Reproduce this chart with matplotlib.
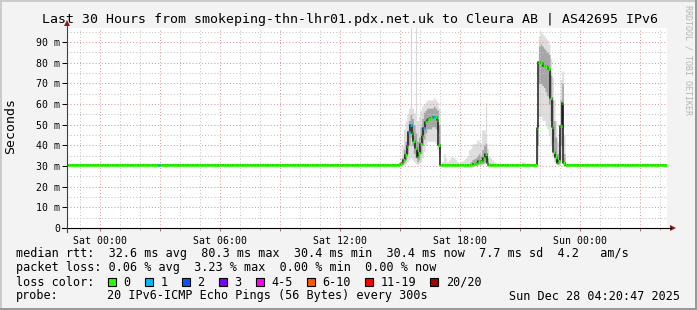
import matplotlib
matplotlib.use("Agg")
import matplotlib.pyplot as plt
from matplotlib.lines import Line2D
from matplotlib.patches import Rectangle, Polygon
import numpy as np

plt.rcParams['font.family'] = ['DejaVu Sans Mono']

# ---------------- data (hours relative to Sat 00:00, values in ms) ----------------
STEP_H = 5 / 60                       # 300 s step
FIRST_STEP_H = -100 / 60              # Fri 22:20
VIEW_START_H = -(1 + 39 / 60 + 13 / 3600)   # Fri 22:20:47
VIEW_HOURS = 30
BASE = 30.4                           # flat median rtt

# quiet stretch before first event (Fri 22:20 .. Sat 15:00)
Q0_N = 200
Q0_LOSS_STEP = 55                     # Sat 02:55 : 1/20 lost
Q0_LOSS_VAL = 1

# event 1 : Sat 15:00 .. 17:00
EV1_MEDIAN = [31.0, 31.7, 33.0, 35.5, 39.8, 46.7, 50.0, 46.0, 42.0, 38.5, 34.6, 36.5,
              40.5, 44.5, 48.3, 51.5, 52.3, 52.8, 53.0, 53.3, 53.9, 53.6, 52.3, 40.2]
EV1_LOSS = [0, 0, 0, 0, 0, 1, 1, 0, 0, 0, 0, 0, 0, 0, 1, 0, 0, 0, 0, 0, 1, 0, 0, 0]
EV1_LO = [30.4, 30.4, 30.5, 31.0, 32.0, 33.0, 34.0, 33.0, 32.0, 31.0, 30.6, 31.0,
          32.0, 34.0, 37.0, 40.0, 42.0, 42.0, 42.0, 42.0, 42.0, 41.0, 38.0, 33.0]
EV1_HI = [34.0, 40.0, 48.0, 52.0, 55.0, 58.0, 60.0, 58.0, 56.0, 55.0, 52.0, 54.0,
          57.0, 59.0, 60.0, 61.0, 62.0, 62.0, 62.0, 62.0, 63.0, 62.0, 61.0, 58.0]
EV1_IN_LO = [30.6, 30.8, 31.5, 33.0, 36.0, 40.0, 44.0, 40.0, 36.0, 34.0, 32.0, 33.0,
             36.0, 40.0, 43.0, 46.0, 48.0, 48.0, 48.0, 49.0, 49.0, 48.0, 46.0, 36.0]
EV1_IN_HI = [32.0, 34.0, 38.0, 42.0, 47.0, 52.0, 55.0, 53.0, 50.0, 46.0, 42.0, 44.0,
             49.0, 53.0, 56.0, 57.0, 58.0, 58.0, 58.0, 58.0, 59.0, 58.0, 57.0, 50.0]
EV1_MAX = [34.0, 40.0, 48.0, 52.0, 55.0, 58.0, 100.0, 58.0, 56.0, 100.0, 52.0, 54.0,
           57.0, 59.0, 60.0, 61.0, 62.0, 62.0, 62.0, 62.0, 63.0, 62.0, 61.0, 58.0]

# light smoke on the flat line, Sat 17:00 .. 18:30
Q1_HI = [31.5, 32.2, 35.9, 34.0, 32.0, 33.0, 34.4, 34.4, 34.0, 33.0, 32.0, 31.5,
         32.0, 32.5, 33.0, 34.0, 35.0, 37.8]

# event 2 : Sat 18:30 .. 19:30
EV2_MEDIAN = [30.5, 30.6, 30.8, 31.2, 31.7, 32.2, 32.0, 32.2, 33.8, 35.8, 31.4, 30.6]
EV2_LOSS = [0] * 12
EV2_LO = [30.4, 30.4, 30.4, 30.4, 30.4, 30.4, 30.4, 30.5, 31.0, 31.5, 30.4, 30.4]
EV2_HI = [38.6, 40.7, 40.7, 41.0, 42.7, 42.0, 41.0, 47.5, 47.5, 45.9, 38.6, 34.6]
EV2_IN_LO = [30.4, 30.5, 30.5, 30.6, 30.8, 31.0, 31.0, 31.2, 31.5, 32.0, 30.6, 30.4]
EV2_IN_HI = [32.0, 33.0, 33.5, 34.0, 35.0, 36.0, 35.0, 38.0, 40.0, 41.0, 34.0, 31.5]
EV2_MAX = [38.6, 40.7, 40.7, 41.0, 42.7, 42.0, 41.0, 47.5, 47.5, 60.4, 38.6, 34.6]

# light smoke on the flat line, Sat 19:30 .. 21:50
Q2_HI = [34.0, 33.0, 32.0, 31.5, 30.4, 30.4, 30.4, 30.4, 30.4, 30.4, 30.4, 30.4,
         30.4, 30.4, 30.4, 30.4, 30.4, 30.4, 30.4, 32.0, 32.0, 30.4, 30.4, 30.4,
         30.4, 30.4, 30.4, 31.0]

# event 3 : Sat 21:50 .. 23:15
EV3_MEDIAN = [48.3, 80.5, 80.0, 79.7, 78.5, 78.5, 78.0, 77.0, 63.0, 49.0, 37.0, 34.5,
              31.7, 32.2, 49.4, 60.7, 31.7]
EV3_LOSS = [0] * 17
EV3_LO = [33.0, 54.0, 54.0, 52.0, 52.0, 50.0, 48.0, 45.0, 40.0, 35.0, 32.0, 31.0,
          30.5, 30.5, 33.0, 38.0, 30.5]
EV3_HI = [52.0, 93.0, 95.0, 94.0, 93.0, 92.0, 91.0, 89.0, 82.0, 73.0, 62.0, 52.0,
          42.0, 46.0, 72.0, 76.0, 45.0]
EV3_IN_LO = [40.0, 70.0, 70.0, 69.0, 68.0, 66.0, 64.0, 60.0, 52.0, 42.0, 34.0, 32.0,
             31.0, 31.0, 40.0, 48.0, 31.0]
EV3_IN_HI = [50.0, 88.0, 89.0, 88.0, 87.0, 86.0, 85.0, 84.0, 74.0, 62.0, 52.0, 44.0,
             36.0, 38.0, 62.0, 70.0, 36.0]
EV3_MAX = EV3_HI

# quiet stretch after (Sat 23:15 .. Sun 04:20)
Q3_N = 61

Y_TICKS = [0, 10, 20, 30, 40, 50, 60, 70, 80, 90]
Y_TICK_LABELS = ["0", "10 m", "20 m", "30 m", "40 m", "50 m", "60 m", "70 m", "80 m", "90 m"]
X_LABEL_HOURS = [0, 6, 12, 18, 24]
X_LABELS = ["Sat 00:00", "Sat 06:00", "Sat 12:00", "Sat 18:00", "Sun 00:00"]

TITLE = "Last 30 Hours from smokeping-thn-lhr01.pdx.net.uk to Cleura AB | AS42695 IPv6"
STAT_LINE_1 = "median rtt:  32.6 ms avg  80.3 ms max  30.4 ms min  30.4 ms now  7.7 ms sd  4.2   am/s"
STAT_LINE_2 = "packet loss: 0.06 % avg  3.23 % max  0.00 % min  0.00 % now"
PROBE_TEXT = "20 IPv6-ICMP Echo Pings (56 Bytes) every 300s"
DATE_TEXT = "Sun Dec 28 04:20:47 2025"
LOSS_LABELS = ["0", "1", "2", "3", "4-5", "6-10", "11-19", "20/20"]
LOSS_COLORS = ["#26ff00", "#00b8ff", "#0059ff", "#7e00ff", "#ff00ea", "#ff5500", "#ff0000", "#a10000"]


def loss_bucket(n):
    if n <= 3:
        return n
    if n <= 5:
        return 4
    if n <= 10:
        return 5
    if n <= 19:
        return 6
    return 7


# ---------------- assemble series ----------------
q0_loss = [0] * Q0_N
q0_loss[Q0_LOSS_STEP] = Q0_LOSS_VAL
N1, N2 = len(Q1_HI), len(Q2_HI)

median = [BASE] * Q0_N + EV1_MEDIAN + [BASE] * N1 + EV2_MEDIAN + [BASE] * N2 + EV3_MEDIAN + [BASE] * Q3_N
loss = q0_loss + EV1_LOSS + [0] * N1 + EV2_LOSS + [0] * N2 + EV3_LOSS + [0] * Q3_N
lo = [BASE] * Q0_N + EV1_LO + [BASE] * N1 + EV2_LO + [BASE] * N2 + EV3_LO + [BASE] * Q3_N
hi = [BASE] * Q0_N + EV1_HI + Q1_HI + EV2_HI + Q2_HI + EV3_HI + [BASE] * Q3_N
in_lo = [BASE] * Q0_N + EV1_IN_LO + [BASE] * N1 + EV2_IN_LO + [BASE] * N2 + EV3_IN_LO + [BASE] * Q3_N
in_hi = [BASE] * Q0_N + EV1_IN_HI + [BASE] * N1 + EV2_IN_HI + [BASE] * N2 + EV3_IN_HI + [BASE] * Q3_N
pmax = [BASE] * Q0_N + EV1_MAX + Q1_HI + EV2_MAX + Q2_HI + EV3_MAX + [BASE] * Q3_N

median = np.array(median); lo = np.array(lo); hi = np.array(hi)
in_lo = np.array(in_lo); in_hi = np.array(in_hi); pmax = np.array(pmax)
n_steps = len(median)
starts = FIRST_STEP_H + np.arange(n_steps) * STEP_H
ends = starts + STEP_H
edges = np.append(starts, ends[-1])


def ext(a):
    return np.append(a, a[-1])


# ---------------- figure ----------------
W, H, DPI = 697, 310, 100
fig = plt.figure(figsize=(W / DPI, H / DPI), dpi=DPI)
fig.patch.set_facecolor('#f3f3f3')


def fx(x):
    return x / W


def fy(y):
    return 1 - y / H


# 3D-ish frame
fig.add_artist(Rectangle((0, 0), fx(2), 1, transform=fig.transFigure, color='#cbcbcb', lw=0))
fig.add_artist(Rectangle((0, fy(2)), 1, 2 / H, transform=fig.transFigure, color='#cbcbcb', lw=0))
fig.add_artist(Rectangle((fx(W - 2), 0), 2 / W, 1, transform=fig.transFigure, color='#999999', lw=0))
fig.add_artist(Rectangle((0, 0), 1, 2 / H, transform=fig.transFigure, color='#999999', lw=0))

PL, PT, PW, PH = 67, 28, 600, 200
ax = fig.add_axes([fx(PL), fy(PT + PH), PW / W, PH / H])
ax.set_facecolor('white')
for s in ax.spines.values():
    s.set_visible(False)
ax.set_xlim(VIEW_START_H, VIEW_START_H + VIEW_HOURS)
ax.set_ylim(0, 96.8)

# grid
ax.set_yticks(Y_TICKS)
ax.set_yticklabels(Y_TICK_LABELS)
ax.set_yticks(np.arange(5, 96, 10), minor=True)
major_x = np.arange(0, 28, 3)
ax.set_xticks(major_x)
ax.set_xticklabels([X_LABELS[X_LABEL_HOURS.index(h)] if h in X_LABEL_HOURS else "" for h in major_x])
ax.set_xticks(np.arange(-1, 29, 1), minor=True)
ax.set_axisbelow(False)
ax.grid(which='major', color='#dc9a9a', linestyle=(0, (1, 2)), linewidth=0.75, zorder=2.5)
ax.grid(which='minor', color='#c4c4c4', linestyle=(0, (1, 2)), linewidth=0.75, zorder=2.5)
ax.axvline(VIEW_START_H + VIEW_HOURS - 0.01, color='#c4c4c4', linestyle=(0, (1, 2)), linewidth=0.75)

ax.tick_params(axis='y', which='major', length=3.6, width=0.7, color='black', pad=1.5,
               labelsize=7.1, direction='out')
ax.tick_params(axis='y', which='minor', length=0)
ax.tick_params(axis='x', which='major', length=2.2, width=0.7, color='#c06060', pad=3.2,
               labelsize=7.1, direction='out')
ax.tick_params(axis='x', which='minor', length=1.5, width=0.7, color='#a0a0a0', direction='out')

# smoke
mask = pmax > hi
ax.vlines((starts + ends)[mask] / 2, hi[mask], pmax[mask], color='#d8d8d8', lw=0.8, zorder=1.0)
ax.fill_between(edges, ext(lo), ext(hi), step='post', color='#dedede', lw=0, zorder=1.1)
ax.fill_between(edges, ext(in_lo), ext(in_hi), step='post', color='#a6a6a6', lw=0, zorder=1.2)

# median
ax.step(edges, ext(median), where='post', color='#1a1a1a', lw=1.1, zorder=3)
cols = [LOSS_COLORS[loss_bucket(n)] for n in loss]
ax.hlines(median, starts, ends, colors=cols, lw=2.2, zorder=4)

# axes lines and arrows
ARROW = '#8b1a1a'
fig.add_artist(Line2D([fx(62), fx(671)], [fy(228), fy(228)], color='black', lw=0.8))
fig.add_artist(Line2D([fx(67), fx(67)], [fy(232), fy(25)], color='#404040', lw=0.8))
fig.add_artist(Polygon([(fx(676), fy(228)), (fx(670), fy(225)), (fx(670), fy(231))],
                       closed=True, transform=fig.transFigure, color=ARROW, lw=0))
fig.add_artist(Polygon([(fx(67), fy(20)), (fx(64), fy(26)), (fx(70), fy(26))],
                       closed=True, transform=fig.transFigure, color=ARROW, lw=0))

# texts
fig.text(fx(350), fy(19), TITLE, fontsize=9.5, ha='center', va='center')
fig.text(fx(11), fy(126), "Seconds", fontsize=9.5, rotation=90, ha='center', va='center')
fig.text(fx(688), fy(60), "RRDTOOL / TOBI OETIKER", fontsize=6, rotation=270,
         ha='center', va='center', color='#b4b4b4')

LEG_FS = 8.5
CW = 7.1
fig.text(fx(16), fy(254), STAT_LINE_1, fontsize=LEG_FS, ha='left', va='center')
fig.text(fx(16), fy(268), STAT_LINE_2, fontsize=LEG_FS, ha='left', va='center')
fig.text(fx(16), fy(282), "loss color:", fontsize=LEG_FS, ha='left', va='center')
cur = 108.3
for lab, col in zip(LOSS_LABELS, LOSS_COLORS):
    fig.add_artist(Rectangle((fx(cur), fy(286)), 8 / W, 8 / H, transform=fig.transFigure,
                             facecolor=col, edgecolor='black', lw=0.8))
    fig.text(fx(cur + 15.4), fy(282), lab, fontsize=LEG_FS, ha='left', va='center')
    cur = cur + 15.4 + len(lab) * CW + 14.4
fig.text(fx(16), fy(296), "probe:", fontsize=LEG_FS, ha='left', va='center')
fig.text(fx(107.3), fy(296), PROBE_TEXT, fontsize=LEG_FS, ha='left', va='center')
fig.text(fx(680), fy(296), DATE_TEXT, fontsize=LEG_FS, ha='right', va='center')

fig.savefig("out.png", dpi=DPI, facecolor=fig.get_facecolor())
